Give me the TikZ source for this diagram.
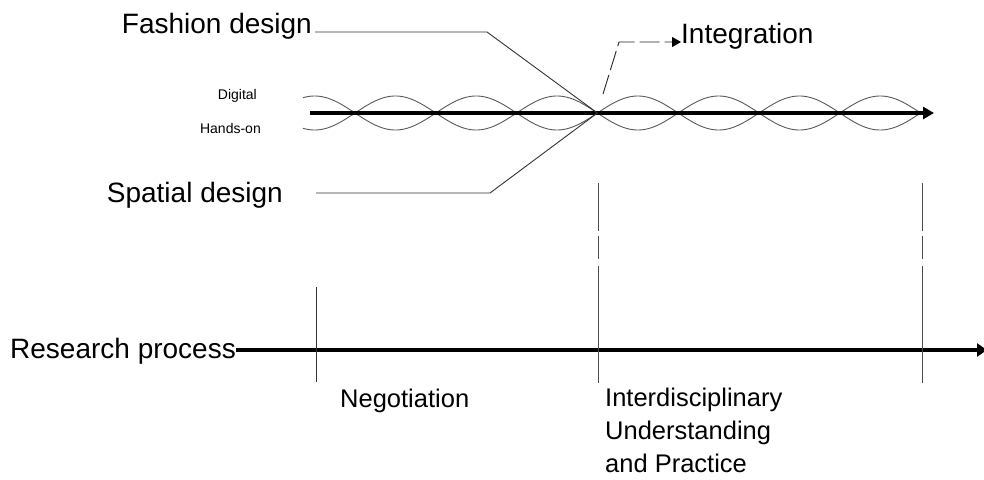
\documentclass[tikz,border=0pt]{standalone}
\usepackage{fontspec}
\setmainfont{Liberation Sans}
\usetikzlibrary{arrows.meta}
\begin{document}
\begin{tikzpicture}[x=1pt,y=-1pt,
  biglabel/.style={inner sep=0pt,font=\fontsize{28}{34}\selectfont},
  midlabel/.style={inner sep=0pt,font=\fontsize{25.5}{33}\selectfont,align=left},
  smalllabel/.style={inner sep=0pt,font=\fontsize{14}{16}\selectfont},
  thinline/.style={line width=0.9pt,draw=black!80},
  strand/.style={line width=0.9pt,draw=black!65},
  thickline/.style={line width=3.6pt,draw=black},
  phaseline/.style={line width=0.9pt,draw=black!70,dash pattern=on 48pt off 5pt on 23pt off 7pt on 300pt},
  intarrow/.style={line width=0.9pt,draw=black!85,dash pattern=on 20pt off 5pt,
    -{Triangle[length=9pt,width=10pt,color=black,fill=black]}}]
\useasboundingbox (0,0) rectangle (984,479);

% labels
\node[biglabel,anchor=base east] (fashion) at (312,33) {Fashion design};
\node[biglabel,anchor=base east] (spatial) at (283,202) {Spatial design};
\node[biglabel,anchor=base west] (integ) at (681,43) {Integration};
\node[biglabel,anchor=base west] (research) at (10,358) {Research process};
\node[smalllabel,anchor=base east] (digital) at (257,99) {Digital};
\node[smalllabel,anchor=base east] (handson) at (261,133) {Hands-on};
\node[midlabel,anchor=base west] (nego) at (340,407) {Negotiation};
\node[midlabel,anchor=north west] (inter) at (605,387.5) {Interdisciplinary\\Understanding\\and Practice};

% key points
\coordinate (meet) at (597.4,113);
\coordinate (fbend) at (487,32);
\coordinate (sbend) at (490,193);
\coordinate (mainstart) at (310,113);
\coordinate (mainend) at (934,113);
\coordinate (ibase) at (603,94);
\coordinate (icorner) at (619,42);
\coordinate (rend) at (987,350);

% interwoven strands along the main axis
\draw[strand] plot[domain=303:920.6,samples=400] (\x,{113-17*abs(sin((\x-355)/80.8*180))});
\draw[strand] plot[domain=303:920.6,samples=400] (\x,{113+17*abs(sin((\x-355)/80.8*180))});
\draw[thickline,-{Triangle[length=11pt,width=12pt]}] (mainstart) -- (mainend);

% discipline leaders
\draw[thinline] (fashion.east |- fbend) ++(3,0) -- (fbend) -- (meet);
\draw[thinline] (spatial.east |- sbend) ++(33,0) -- (sbend) -- (meet);

% integration pointer
\draw[intarrow] (ibase) -- (icorner) -- (integ.west |- icorner);

% research timeline
\draw[thickline,line width=3.4pt,-{Triangle[length=10pt,width=13pt]}] (research.east |- rend) -- (rend);
\draw[thinline] (316,287) -- (316,382);
\draw[phaseline] (598,183) -- (598,383);
\draw[phaseline] (922,183) -- (922,383);
\end{tikzpicture}
\end{document}
